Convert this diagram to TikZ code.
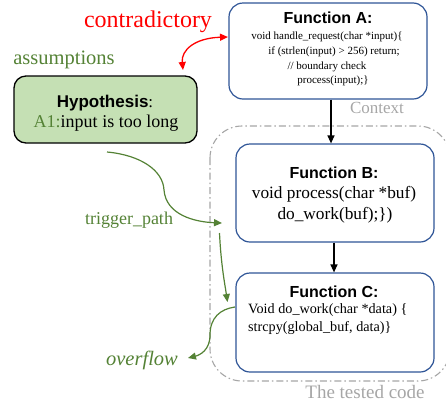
\documentclass[tikz,border=0pt]{standalone}
\usepackage{fontspec}
\setmainfont{Liberation Serif}
\newfontfamily\titlefont{Liberation Sans}
\usetikzlibrary{arrows.meta}
\definecolor{boxblue}{HTML}{2F5597}
\definecolor{grn}{HTML}{548235}
\definecolor{grnfill}{HTML}{C5E0B4}
\definecolor{gry}{HTML}{A6A6A6}
\tikzset{
  funcbox/.style={draw=boxblue, line width=1.2pt, rounded corners=14pt, fill=white, inner sep=0pt},
  hypbox/.style={draw=black, line width=1.3pt, rounded corners=12pt, fill=grnfill, inner sep=0pt},
  ttl/.style={font=\titlefont\bfseries\fontsize{16}{18}\selectfont, inner sep=0pt},
  codeA/.style={font=\fontsize{11}{13}\selectfont, inner sep=0pt},
  codeB/.style={font=\fontsize{17.3}{19}\selectfont, inner sep=0pt},
  codeC/.style={font=\fontsize{14.2}{16}\selectfont, inner sep=0pt, anchor=west},
  arr/.style={-{Triangle[length=8pt,width=7pt]}, line width=1.2pt, black},
  garr/.style={-{Triangle[length=8pt,width=7pt]}, line width=1.2pt, grn},
  rarr/.style={{Triangle[length=8pt,width=7pt]}-{Triangle[length=8pt,width=7pt]}, line width=1.3pt, red},
  dashbox/.style={draw=gry, line width=1.1pt, rounded corners=32pt, dash pattern=on 7pt off 3pt on 1.5pt off 3pt},
  graylbl/.style={text=gry, inner sep=0pt},
}
\begin{document}
\begin{tikzpicture}[x=1pt,y=-1pt]
\useasboundingbox (0,0) rectangle (446,405);
% tested code region
\draw[dashbox] (210,126) rectangle (450,381);
\node[graylbl, font=\fontsize{17}{19}\selectfont] (ctx) at (377,108) {Context};
\node[graylbl, font=\fontsize{19}{21}\selectfont] (tested) at (365,392) {The tested code};

% Function A
\node[funcbox, minimum width=198pt, minimum height=96pt] (fa) at (328,51) {};
\node[ttl] (fat) at (328,18) {Function A:};
\node[codeA] (fa1) at (327,37) {void handle\_request(char *input)\{};
\node[codeA] (fa2) at (334,52) {if (strlen(input) > 256) return;};
\node[codeA] (fa3) at (327,67) {// boundary check};
\node[codeA] (fa4) at (333,81) {process(input);\}};

% Hypothesis
\node[hypbox, minimum width=183pt, minimum height=67pt] (hyp) at (105.5,109.5) {};
\node[inner sep=0pt, font=\fontsize{17}{19}\selectfont] (hypt) at (105,103) {{\titlefont\bfseries Hypothesis}:};
\node[inner sep=0pt, font=\fontsize{18}{20}\selectfont] (hypa) at (106,123) {\textcolor{grn}{A1:}input is too long};

% labels
\node[text=red, inner sep=0pt, font=\fontsize{24}{26}\selectfont] (contra) at (148,22) {contradictory};
\node[text=grn, inner sep=0pt, font=\fontsize{20.5}{22}\selectfont] (assum) at (64,60) {assumptions};
\node[text=grn, inner sep=0pt, font=\fontsize{18}{20}\selectfont] (trig) at (129,220) {trigger\_path};
\node[text=grn, inner sep=0pt, font=\itshape\fontsize{20.5}{22}\selectfont] (ovf) at (142,360) {overflow};

% Function B
\node[funcbox, minimum width=198pt, minimum height=98pt] (fb) at (335,193) {};
\node[ttl] (fbt) at (334,173) {Function B:};
\node[codeB] (fb1) at (334,194) {void process(char *buf)};
\node[codeB] (fb2) at (335,215) {do\_work(buf);\})};

% Function C
\node[funcbox, minimum width=198pt, minimum height=99pt] (fc) at (335,322.5) {};
\node[ttl] (fct) at (334,292) {Function C:};
\node[codeC] (fc1) at (248,310) {Void do\_work(char *data) \{};
\node[codeC] (fc2) at (248,328) {strcpy(global\_buf, data)\}};

% black arrows
\draw[arr] ([xshift=3pt]fa.south) -- ([xshift=-4pt]fb.north);
\draw[arr] ([xshift=-1pt]fb.south) -- ([xshift=-1pt]fc.north);

% red double arrow
\coordinate (r1) at (183,70);
\coordinate (r2) at (228,37);
\draw[rarr] (r1) .. controls (181,50) and (195,38) .. (r2);

% green paths
\coordinate (g1s) at (107,152);
\coordinate (g1m) at (164,190);
\coordinate (g1e) at (222,223);
\draw[garr] (g1s) .. controls (140,155) and (163,170) .. (g1m) .. controls (166,215) and (195,222) .. (g1e);
\coordinate (g2s) at (219.5,233);
\coordinate (g2e) at (227.5,302);
\draw[garr] (g2s) .. controls (221,265) and (225,285) .. (g2e);
\coordinate (g3s) at (235,307);
\coordinate (g3m) at (210,335);
\coordinate (g3e) at (188,358);
\draw[garr] (g3s) .. controls (220,309) and (210,318) .. (g3m) .. controls (210,350) and (200,355) .. (g3e);
\end{tikzpicture}
\end{document}
